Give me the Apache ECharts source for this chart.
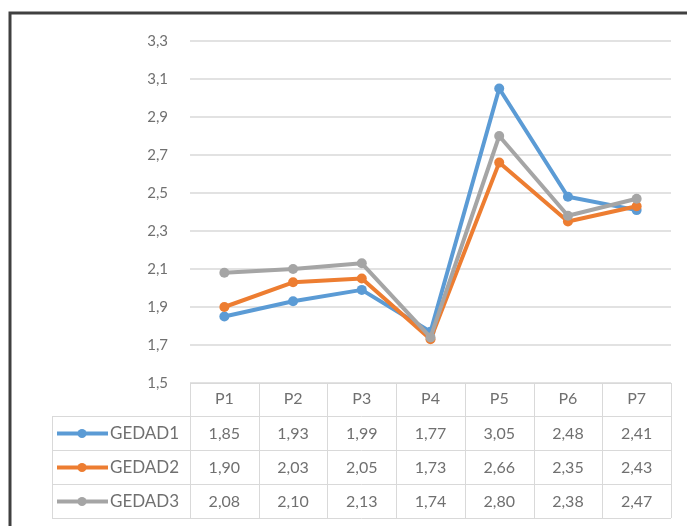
<!DOCTYPE html>
<html>
<head>
<meta charset="utf-8">
<script src="https://cdn.jsdelivr.net/npm/echarts@6/dist/echarts.min.js"></script>
<style>
  html, body { margin: 0; padding: 0; background: #fff; }
  #chart { width: 687px; height: 526px; }
</style>
</head>
<body>
<div id="chart"></div>
<script>
// Periods along the horizontal axis
const categories = ['P1', 'P2', 'P3', 'P4', 'P5', 'P6', 'P7'];
// Series names and values
const seriesNames = ['GEDAD1', 'GEDAD2', 'GEDAD3'];
const gedad1 = [1.85, 1.93, 1.99, 1.77, 3.05, 2.48, 2.41];
const gedad2 = [1.90, 2.03, 2.05, 1.73, 2.66, 2.35, 2.43];
const gedad3 = [2.08, 2.10, 2.13, 1.74, 2.80, 2.38, 2.47];
// Vertical scale labels, bottom to top
const yTickLabels = ['1,5', '1,7', '1,9', '2,1', '2,3', '2,5', '2,7', '2,9', '3,1', '3,3'];
const yMin = 1.5, yMax = 3.3;

const colors = ['#5B9BD5', '#ED7D31', '#A5A5A5'];
const allValues = [gedad1, gedad2, gedad3];
const FONT = 'Lato, "Open Sans", sans-serif';
const TEXT = '#707070';
const BORDER = '#d9d9d9';

const chart = echarts.init(document.getElementById('chart'), null, { renderer: 'canvas' });

const fmt = v => v.toFixed(2).replace('.', ',');

const option = {
  animation: false,
  backgroundColor: '#ffffff',
  grid: { left: 190, right: 16, top: 41, bottom: 143 },
  xAxis: {
    type: 'category',
    data: categories,
    boundaryGap: true,
    axisLine: { show: false },
    axisTick: { show: false },
    axisLabel: { color: TEXT, fontFamily: FONT, fontSize: 16, margin: 8 }
  },
  yAxis: [
    {
      // labelled gridlines
      type: 'category',
      data: yTickLabels,
      boundaryGap: false,
      axisLine: { show: false },
      axisTick: { show: false },
      axisLabel: { color: TEXT, fontFamily: FONT, fontSize: 15, margin: 22 },
      splitLine: { show: true, lineStyle: { color: BORDER, width: 1.5 } }
    },
    {
      // numeric scale for the series
      type: 'value',
      min: yMin,
      max: yMax,
      show: false,
      splitLine: { show: false }
    }
  ],
  series: seriesNames.map((name, i) => ({
    name: name,
    type: 'line',
    yAxisIndex: 1,
    data: allValues[i],
    symbol: 'circle',
    symbolSize: 10,
    lineStyle: { color: colors[i], width: 4 },
    itemStyle: { color: colors[i] },
    z: 2 + i
  }))
};

chart.setOption(option);

// Data table under the plot, built from the same arrays
function buildTable() {
  const g = [];
  const tableLeft = 52, catLeft = 190, tableRight = 671;
  const headTop = 383, rowH = 34;
  const colW = (tableRight - catLeft) / categories.length;
  const rowsTop = headTop + rowH - 1;
  const bottom = rowsTop + rowH * seriesNames.length;
  const line = (x1, y1, x2, y2) => ({
    type: 'line', silent: true,
    shape: { x1, y1, x2, y2 },
    style: { stroke: BORDER, lineWidth: 1 }
  });

  // horizontal rules
  g.push(line(catLeft, headTop + 0.5, tableRight, headTop + 0.5));
  for (let r = 0; r <= seriesNames.length; r++) {
    const y = rowsTop + r * rowH + 0.5;
    g.push(line(tableLeft, y, tableRight, y));
  }
  // vertical rules
  g.push(line(tableLeft + 0.5, rowsTop, tableLeft + 0.5, bottom));
  for (let c = 0; c <= categories.length; c++) {
    const x = Math.round(catLeft + c * colW) + 0.5;
    g.push(line(x, headTop, x, bottom));
  }

  seriesNames.forEach((name, i) => {
    const cy = rowsTop + i * rowH + rowH / 2 + 0.5;
    // legend key
    g.push({
      type: 'line', silent: true,
      shape: { x1: 57, y1: cy, x2: 108, y2: cy },
      style: { stroke: colors[i], lineWidth: 4 }
    });
    g.push({
      type: 'circle', silent: true,
      shape: { cx: 82, cy: cy, r: 4.5 },
      style: { fill: colors[i] }
    });
    g.push({
      type: 'text', silent: true,
      style: {
        x: 110, y: cy, text: name, fill: TEXT,
        font: '17px ' + FONT, textAlign: 'left', textVerticalAlign: 'middle'
      }
    });
    // values
    allValues[i].forEach((v, j) => {
      const px = chart.convertToPixel({ xAxisIndex: 0 }, categories[j]);
      g.push({
        type: 'text', silent: true,
        style: {
          x: px, y: cy, text: fmt(v), fill: TEXT,
          font: '16px ' + FONT, textAlign: 'center', textVerticalAlign: 'middle'
        }
      });
    });
  });

  // chart frame
  g.push({
    type: 'polyline', silent: true,
    shape: { points: [[10, 526], [10, 13], [690, 13]] },
    style: { stroke: '#404040', lineWidth: 3, fill: null }
  });

  chart.setOption({ graphic: g });
}

buildTable();
</script>
</body>
</html>
